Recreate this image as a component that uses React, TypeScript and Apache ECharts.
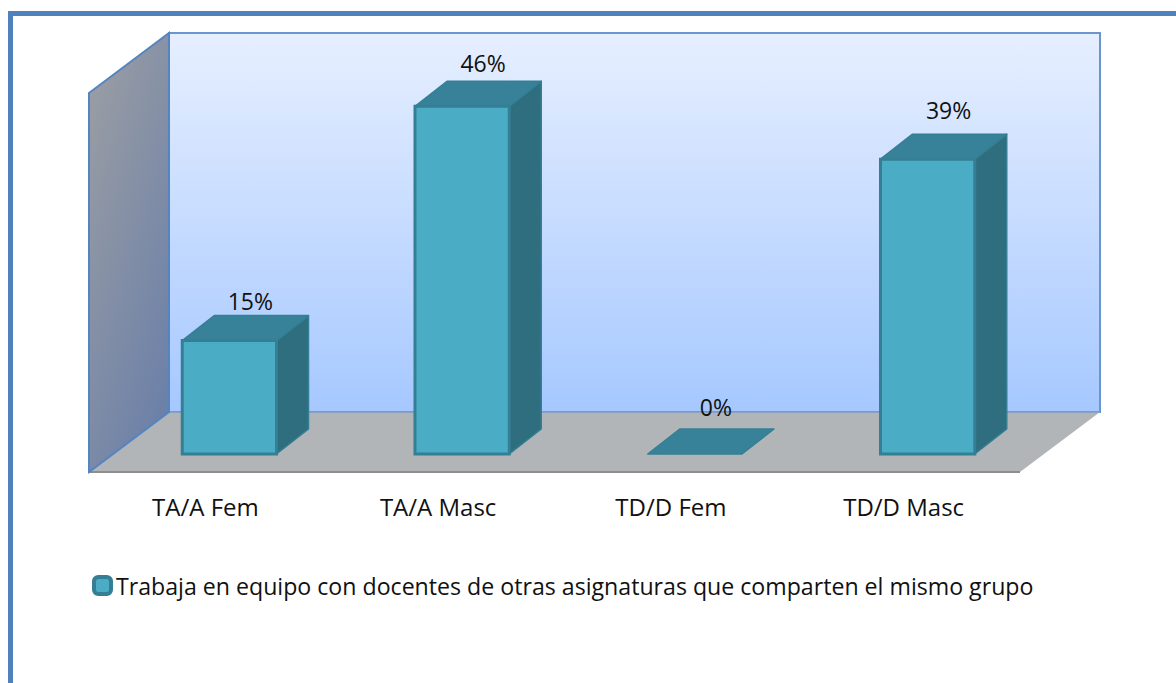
import React, { useEffect, useRef } from "react";
import * as echarts from "echarts";

const categories = ["TA/A Fem", "TA/A Masc", "TD/D Fem", "TD/D Masc"];
const percentages = [15, 46, 0, 39];
const seriesName = "Trabaja en equipo con docentes de otras asignaturas que comparten el mismo grupo";
const labelLift = [40, 43, 47, 49];

const FONT = '"Open Sans", sans-serif';
const DEPTH_X = 32;
const DEPTH_Y = 25;
const FACE = "#4BACC6";
const EDGE = "#357F94";
const TOP = "#378298";
const SIDE = "#2F6E7E";

export default function App() {
  const ref = useRef<HTMLDivElement>(null);
  useEffect(() => {
    const chart = echarts.init(ref.current!, undefined, { renderer: "svg" });
    chart.setOption({
      animation: false,
      backgroundColor: "#fff",
      grid: [
        { left: 113, top: 76, width: 931, height: 378 },
        { left: 89, top: 93, width: 931, height: 379 },
      ],
      xAxis: [
        { gridIndex: 0, type: "category", data: categories, axisLine: { show: false }, axisTick: { show: false }, axisLabel: { show: false } },
        {
          gridIndex: 1, type: "category", data: categories,
          axisLine: { show: false }, axisTick: { show: false },
          axisLabel: { margin: 22, color: "#111", fontFamily: FONT, fontSize: 24 },
        },
      ],
      yAxis: [
        { gridIndex: 0, type: "value", min: 0, max: 50, show: false },
        { gridIndex: 1, type: "value", min: 0, max: 50, show: false },
      ],
      legend: {
        left: 92, top: 574, padding: 0, itemWidth: 17, itemHeight: 17, itemGap: 0,
        selectedMode: false,
        data: [{
          name: seriesName, icon: "roundRect",
          itemStyle: { color: FACE, borderColor: EDGE, borderWidth: 4 },
        }],
        textStyle: { color: "#111", fontFamily: FONT, fontSize: 23.15 },
      },
      graphic: [
        { type: "rect", z: 0, shape: { x: 10.5, y: 13.5, width: 1300, height: 800 }, style: { fill: "none", stroke: "#4F81BD", lineWidth: 5 } },
        {
          type: "rect", z: 0, shape: { x: 169, y: 33, width: 931, height: 379 },
          style: {
            stroke: "#6A96CC", lineWidth: 2,
            fill: new echarts.graphic.LinearGradient(0, 0, 0, 1, [
              { offset: 0, color: "#E6EFFF" }, { offset: 1, color: "#A6C8FF" },
            ]),
          },
        },
        {
          type: "polygon", z: 0, shape: { points: [[89, 472], [169, 412], [1100, 412], [1020, 472]] },
          style: { fill: "#B1B5B8" },
        },
        { type: "line", z: 0, shape: { x1: 89, y1: 472, x2: 1020, y2: 472 }, style: { stroke: "#8E8E8E", lineWidth: 2 } },
        { type: "line", z: 0, shape: { x1: 169, y1: 412, x2: 1100, y2: 412 }, style: { stroke: "#7E9CC6", lineWidth: 1.5 } },
        {
          type: "polygon", z: 0, shape: { points: [[89, 93], [169, 33], [169, 412], [89, 472]] },
          style: {
            stroke: "#5585C0", lineWidth: 2,
            fill: new echarts.graphic.LinearGradient(0.2, 0, 0.8, 1, [
              { offset: 0, color: "#999DA4" }, { offset: 1, color: "#6A7FA8" },
            ]),
          },
        },
      ],
      series: [{
        type: "custom",
        name: seriesName,
        xAxisIndex: 0,
        yAxisIndex: 0,
        clip: false,
        encode: { x: 0, y: 1 },
        data: percentages.map((v, i) => [i, v]),
        itemStyle: { color: FACE },
        renderItem: (_p: any, api: any) => {
          const i = api.value(0);
          const v = api.value(1);
          const [cx, yTop] = api.coord([i, v]);
          const [, yBase] = api.coord([i, 0]);
          const w = api.size([1, 0])[0] * 0.405;
          const l = cx - w / 2;
          const r = cx + w / 2;
          const children: any[] = [];
          const poly = (points: number[][], fill: string) => ({
            type: "polygon", shape: { points },
            style: { fill, stroke: EDGE, lineWidth: 1.5, lineJoin: "round" },
          });
          if (v > 0) {
            children.push(poly([[r, yTop], [r + DEPTH_X, yTop - DEPTH_Y], [r + DEPTH_X, yBase - DEPTH_Y], [r, yBase]], SIDE));
          }
          children.push(poly([[l, yTop], [l + DEPTH_X, yTop - DEPTH_Y], [r + DEPTH_X, yTop - DEPTH_Y], [r, yTop]], TOP));
          if (v > 0) {
            children.push({
              type: "rect", shape: { x: l, y: yTop, width: w, height: yBase - yTop },
              style: { fill: FACE, stroke: EDGE, lineWidth: 3 },
            });
          }
          children.push({
            type: "text",
            style: {
              text: `${v}%`, x: cx + 21, y: yTop - labelLift[i],
              fill: "#111", font: `23px ${FONT}`, align: "center", verticalAlign: "middle",
            },
          });
          return { type: "group", children };
        },
      }],
    });
    return () => chart.dispose();
  }, []);
  return <div ref={ref} style={{ position: "fixed", left: 0, top: 0, width: 1176, height: 683, overflow: "hidden" }} />;
}
